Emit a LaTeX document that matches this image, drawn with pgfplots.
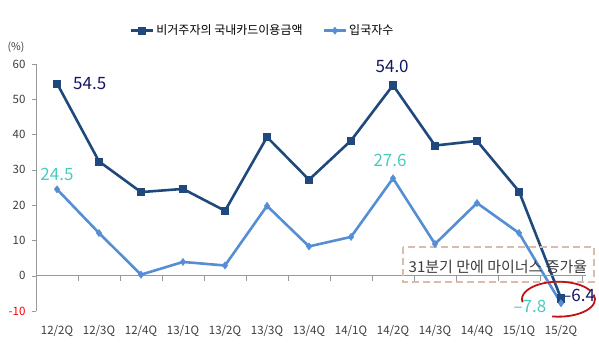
\documentclass[border=0pt]{standalone}
\usepackage{fontspec}
\setmainfont{Noto Sans CJK KR}
\usepackage{pgfplots}
\pgfplotsset{compat=1.18}
\definecolor{darkser}{RGB}{31,73,125}
\definecolor{lightser}{RGB}{85,142,213}
\definecolor{navylab}{RGB}{20,22,100}
\definecolor{turq}{RGB}{72,204,192}
\definecolor{boxc}{RGB}{218,188,175}
\definecolor{ellc}{RGB}{190,20,20}
\definecolor{tickc}{RGB}{60,60,60}
\begin{document}
\begin{tikzpicture}[x=1pt,y=1pt]
\useasboundingbox (-36,-42) rectangle (563,311);
\begin{axis}[
  scale only axis, width=546pt, height=247pt,
  xmin=-0.5, xmax=12.5, ymin=-10, ymax=60,
  axis lines=left, axis line style={-, draw=gray!80},
  x axis line style={draw=none},
  xtick={0,...,12},
  xticklabels={12/2Q,12/3Q,12/4Q,13/1Q,13/2Q,13/3Q,13/4Q,14/1Q,14/2Q,14/3Q,14/4Q,15/1Q,15/2Q},
  xtick style={draw=none},
  ytick={-10,0,10,20,30,40,50,60},
  yticklabels={\textcolor{red}{-10},0,10,20,30,40,50,60},
  ytick style={draw=gray!80},
  tick align=outside, major tick length=4pt,
  tick label style={font=\fontsize{11.5}{13}\selectfont, text=tickc},
  xticklabel style={yshift=-7pt},
  yticklabel style={xshift=-3pt},
  clip=false,
  legend style={at={(0.415,1.135)}, anchor=center, draw=none, fill=none,
    legend columns=2, font=\fontsize{12}{14}\selectfont,
    /tikz/every even column/.append style={column sep=18pt}},
  legend image code/.code={\draw[mark repeat=2,mark phase=2,#1] plot coordinates {(0pt,0pt) (11pt,0pt) (22pt,0pt)};},
]
\addplot[color=darkser, line width=2.6pt, mark=square*, mark size=3.6pt, mark options={solid, line width=0.5pt}]
coordinates {(0,54.5) (1,32.4) (2,23.7) (3,24.6) (4,18.4) (5,39.3) (6,27.2) (7,38.3) (8,54.0) (9,36.9) (10,38.2) (11,23.9) (12,-6.4)};
\addlegendentry{비거주자의 국내카드이용금액}
\addplot[color=lightser, line width=2.6pt, mark=diamond*, mark size=3.6pt, mark options={solid, line width=0.5pt}]
coordinates {(0,24.5) (1,12.1) (2,0.3) (3,3.9) (4,2.9) (5,19.8) (6,8.3) (7,11.0) (8,27.6) (9,9.0) (10,20.6) (11,12.1) (12,-7.8)};
\addlegendentry{입국자수}
% zero line with category ticks
\draw[gray!80, line width=0.6pt] (axis cs:-0.5,0) -- (axis cs:12.6,0);
\pgfplotsinvokeforeach{0.5,1.5,2.5,3.5,4.5,5.5,6.5,7.5,8.5,9.5,10.5,11.5,12.5}{\draw[gray!80, line width=0.6pt] (axis cs:#1,0) -- ++(0pt,-5pt);}
% labels
\node[font=\fontsize{10.5}{12}\selectfont, text=tickc] at (axis cs:-0.5,60) [xshift=-20pt, yshift=17pt] {(\%)};
\node[font=\fontsize{17}{19}\selectfont, text=navylab] at (axis cs:0.78,54.4) {54.5};
\node[font=\fontsize{17}{19}\selectfont, text=navylab] at (axis cs:7.98,59.2) {54.0};
\node[font=\fontsize{17}{19}\selectfont, text=turq] at (axis cs:0,28.6) {24.5};
\node[font=\fontsize{17}{19}\selectfont, text=turq] at (axis cs:7.93,32.6) {27.6};
\node[font=\fontsize{17}{19}\selectfont, text=turq] at (axis cs:11.26,-8.8) {--7.8};
\node[font=\fontsize{17}{19}\selectfont, text=navylab] at (axis cs:12.42,-5.7) {--6.4};
% annotation box
\draw[boxc, line width=1.8pt, dash pattern=on 7pt off 4pt] (axis cs:8.24,8.2) rectangle (axis cs:12.79,-1.7);
\node[font=\fontsize{15}{17}\selectfont, text=tickc] at (axis cs:10.5,2.55) {31분기 만에 마이너스 증가율};
% red ellipse arcs
\draw[ellc, line width=1.8pt] (axis cs:11.94,-6.66) ++(31.6pt,8.75pt) arc[start angle=30, end angle=190, x radius=36.5pt, y radius=17.5pt];
\draw[ellc, line width=1.8pt] (axis cs:11.94,-6.66) ++(-6.3pt,-17.2pt) arc[start angle=260, end angle=375, x radius=36.5pt, y radius=17.5pt];
\end{axis}
\end{tikzpicture}
\end{document}
